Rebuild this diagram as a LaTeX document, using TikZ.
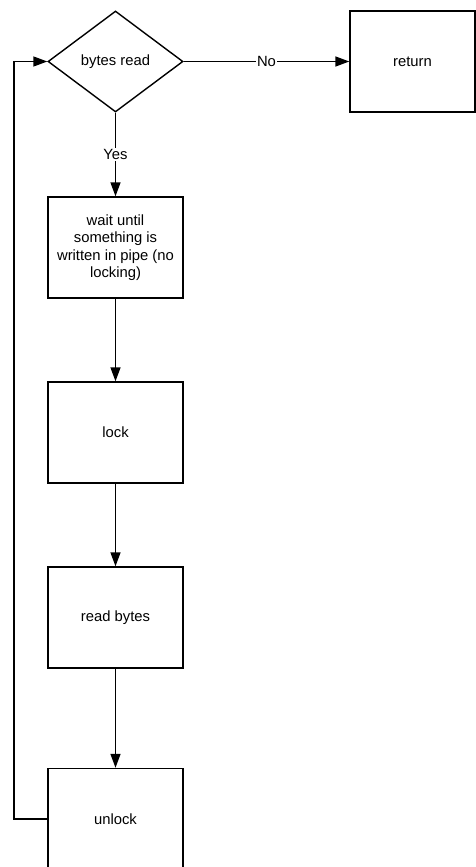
\documentclass[tikz,border=0pt]{standalone}
\usepackage{fontspec}
\setmainfont{Liberation Sans}
\usetikzlibrary{positioning,arrows.meta,shapes.geometric}

\begin{document}
\begin{tikzpicture}[
    x=1pt, y=-1pt,
    stepbox/.style={draw, minimum width=135pt, minimum height=101pt, align=center, line width=1.4pt, inner sep=2pt, font=\fontsize{14.8}{17.5}\selectfont},
    decision/.style={draw, diamond, minimum width=135pt, minimum height=101pt, inner sep=0pt, line width=1.4pt, font=\fontsize{14.8}{17.5}\selectfont},
    flow/.style={-{Triangle[length=14pt,width=10pt]}, line width=1.4pt},
    tag/.style={fill=white, inner sep=1pt, font=\fontsize{14.8}{17}\selectfont},
]
  \useasboundingbox (0,0) rectangle (476,867);

  \node[decision] (check) at (115.5,61.5) {bytes read};
  \node[stepbox, minimum width=125pt] (ret) at (412.5,61.5) {return};
  \node[stepbox] (wait) at (115.5,247.5) {wait until\\something is\\written in pipe (no\\locking)};
  \node[stepbox] (lock) at (115.5,432.5) {lock};
  \node[stepbox] (read) at (115.5,617.5) {read bytes};
  \node[stepbox] (unlock) at (115.5,819) {unlock};

  % main chain
  \draw[flow] (check.east) -- node[tag] {No} (ret.west);
  \draw[flow] (check.south) -- node[tag] {Yes} (wait.north);
  \draw[flow] (wait) -- (lock);
  \draw[flow] (lock) -- (read);
  \draw[flow] (read) -- (unlock);

  % back to the test
  \coordinate (loopx) at (14,0);
  \draw[flow] (unlock.west) -- (unlock.west -| loopx) |- (check.west);
\end{tikzpicture}
\end{document}
